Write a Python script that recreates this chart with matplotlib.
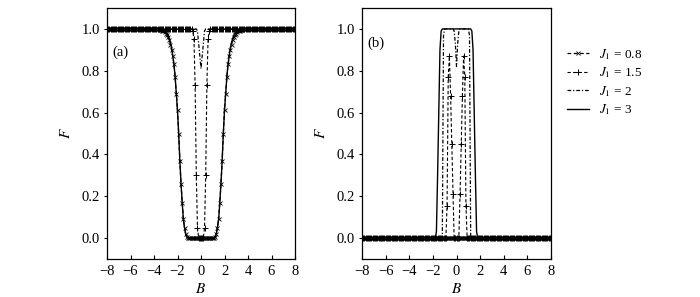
import numpy as np
import matplotlib
matplotlib.use("Agg")
import matplotlib.pyplot as plt
from matplotlib.lines import Line2D

plt.rcParams['font.family'] = ['Liberation Serif', 'DejaVu Serif']
plt.rcParams['mathtext.fontset'] = 'stix'

# magnetic field grid (B from -8 to 8, step 0.1)
B = np.round(np.arange(-80, 81) / 10.0, 1)

def sym(half, tail):
    """half-profile read for B = 0, 0.1, 0.2, ... ; padded with the flat tail value, mirrored"""
    h = list(half) + [tail] * (81 - len(half))
    return np.array(h[::-1] + h[1:])

labels = [r'$J_1$ = 0.8', r'$J_1$ = 1.5', r'$J_1$ = 2', r'$J_1$ = 3']

# ---- panel (a) half profiles (B >= 0) ----
a_J08 = [0.0]*12 + [0.005, 0.02, 0.05, 0.09, 0.17, 0.26, 0.37, 0.50, 0.61, 0.69,
                    0.77, 0.83, 0.87, 0.90, 0.925, 0.945, 0.96, 0.97, 0.978, 0.984,
                    0.988, 0.991, 0.994, 0.996, 0.998, 0.999]
a_J15 = [0.0, 0.0, 0.0, 0.05, 0.30, 0.73, 0.95, 0.99]
a_J2 = [0.81, 0.87, 0.93, 0.99]
a_J3 = [0.0]*12 + [0.005, 0.02, 0.05, 0.09, 0.17, 0.26, 0.37, 0.50, 0.61, 0.69,
                   0.77, 0.83, 0.87, 0.91, 0.935, 0.955, 0.97, 0.98, 0.986, 0.991,
                   0.995, 0.998]

# ---- panel (b) half profiles (B >= 0) ----
b_J08 = [0.0]
b_J15 = [0.0, 0.0, 0.0, 0.21, 0.45, 0.68, 0.87, 0.77, 0.155]
b_J2 = [0.82, 0.93, 0.99, 1.0, 1.0, 1.0, 1.0, 1.0, 1.0, 1.0, 1.0, 0.97]
b_J3 = [1.0]*13 + [0.99, 0.90, 0.60, 0.30, 0.03]

panel_a = [(a_J08, 1.0), (a_J15, 1.0), (a_J2, 1.0), (a_J3, 1.0)]
panel_b = [(b_J08, 0.0), (b_J15, 0.0), (b_J2, 0.0), (b_J3, 0.0)]

styles = [
    dict(ls=(0, (3, 2)), marker='x', ms=3.5, mew=0.6, lw=0.9),
    dict(ls=(0, (3, 2)), marker='+', ms=5, mew=0.7, lw=0.8),
    dict(ls=(0, (3, 1.5, 1, 1.5)), marker=None, lw=0.9),
    dict(ls='-', marker=None, lw=1.0),
]

fig = plt.figure(figsize=(7.0, 2.97), dpi=100)
ax_a = fig.add_axes([107/700, 38/297, 188/700, 251/297])
ax_b = fig.add_axes([362/700, 38/297, 189/700, 251/297])

xt = list(range(-8, 9, 2))
yt = [0.0, 0.2, 0.4, 0.6, 0.8, 1.0]
for ax, data, tag, tagy in [(ax_a, panel_a, '(a)', 0.825), (ax_b, panel_b, '(b)', 0.86)]:
    for (half, tail), st in zip(data, styles):
        ax.plot(B, sym(half, tail), color='black', **st)
    ax.set_xlim(-8, 8)
    ax.set_ylim(-0.1, 1.1)
    ax.set_xticks(xt)
    ax.set_yticks(yt)
    ax.set_xticklabels([f'\u2212{abs(v)}' if v < 0 else f'{v}' for v in xt])
    ax.set_yticklabels([f'{v:.1f}' for v in yt])
    ax.tick_params(axis='x', direction='in', length=3, width=0.8, labelsize=10.5, pad=4, top=False)
    ax.tick_params(axis='y', direction='out', length=2, width=0.8, labelsize=10.5, pad=3, right=False)
    for s in ax.spines.values():
        s.set_linewidth(0.9)
    ax.set_xlabel(r'$B$', fontsize=11, labelpad=3)
    ax.set_ylabel(r'$F$', fontsize=11, labelpad=6)
    ax.text(0.03, tagy, tag, transform=ax.transAxes, fontsize=10.5, ha='left', va='center')

handles = [Line2D([], [], color='black', **st) for st in styles]
fig.legend(handles, labels, loc='upper left', bbox_to_anchor=(567/700, 1 - 47/297),
           frameon=False, fontsize=9.5, handlelength=1.7, handletextpad=0.7,
           labelspacing=0.28, borderpad=0, borderaxespad=0, numpoints=1)

fig.savefig('out.png', dpi=100)
